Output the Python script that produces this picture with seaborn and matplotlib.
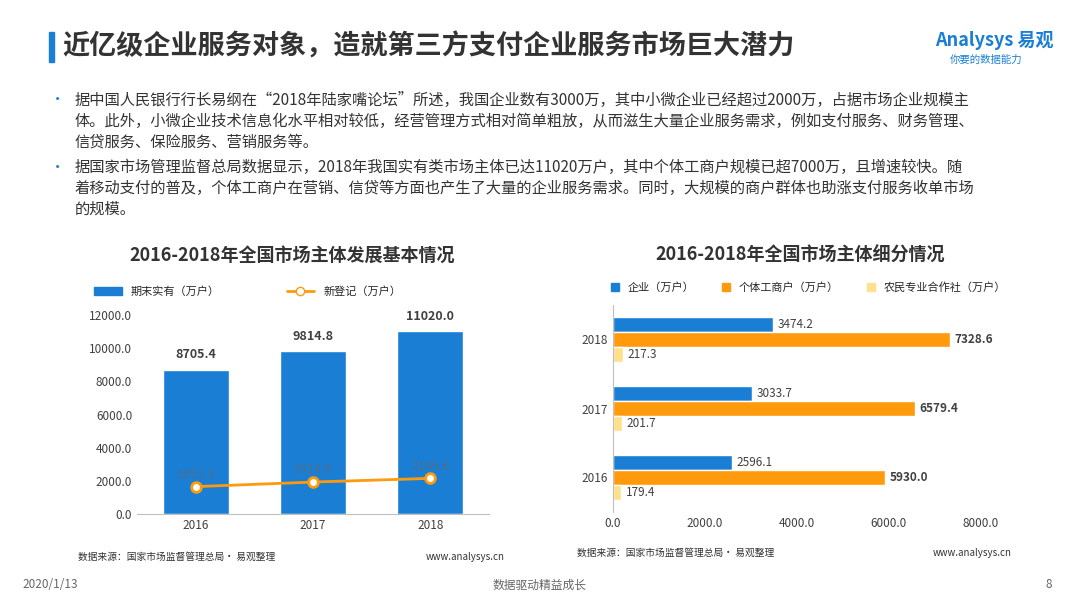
import numpy as np
import pandas as pd
import matplotlib
matplotlib.use("Agg")
import matplotlib.pyplot as plt
import seaborn as sns
from matplotlib.patches import Patch
from matplotlib.lines import Line2D

sns.set_style("white")
plt.rcParams['font.family'] = ['Noto Sans CJK SC', 'DejaVu Sans']

# data
years = ['2016', '2017', '2018']
stock = [8705.4, 9814.8, 11020.0]
new_reg = [1651.3, 1924.9, 2149.6]
enterprise = [2596.1, 3033.7, 3474.2]
individual = [5930.0, 6579.4, 7328.6]
coop = [179.4, 201.7, 217.3]

BLUE = '#1a7fd4'
ORANGE = '#ff9a0d'
PALE = '#ffe08c'
W, H = 1080, 608

fig = plt.figure(figsize=(10.8, 6.08), dpi=100)

def fx(x): return x / W
def fy(y): return 1 - y / H

# header
fig.patches.append(plt.Rectangle((fx(49), fy(62)), fx(5), 30 / H, color='#1a7fd4',
                                 transform=fig.transFigure))
fig.text(fx(62), fy(47), '近亿级企业服务对象，造就第三方支付企业服务市场巨大潜力',
         fontsize=19.5, fontweight='bold', color='#333333', va='center')
fig.text(fx(935), fy(40), 'Analysys 易观', fontsize=13, color='#1a7fd4', fontweight='bold',
         va='center', style='italic')
fig.text(fx(950), fy(60), '你要的数据能力', fontsize=7.5, color='#1a7fd4', va='center')

bul = [
    (80, '据中国人民银行行长易纲在“2018年陆家嘴论坛”所述，我国企业数有3000万，其中小微企业已经超过2000万，占据市场企业规模主'),
    (101, '体。此外，小微企业技术信息化水平相对较低，经营管理方式相对简单粗放，从而滋生大量企业服务需求，例如支付服务、财务管理、'),
    (122, '信贷服务、保险服务、营销服务等。'),
    (147, '据国家市场管理监督总局数据显示，2018年我国实有类市场主体已达11020万户，其中个体工商户规模已超7000万，且增速较快。随'),
    (168, '着移动支付的普及，个体工商户在营销、信贷等方面也产生了大量的企业服务需求。同时，大规模的商户群体也助涨支付服务收单市场'),
    (189, '的规模。'),
]
for y, t in bul:
    fig.text(fx(75), fy(y + 20), t, fontsize=11, color='#333333', va='center')
for y in (80, 147):
    fig.text(fx(50), fy(y + 20), '•', fontsize=11, color='#1a7fd4', va='center')

# left chart
fig.text(fx(292), fy(255), '2016-2018年全国市场主体发展基本情况', fontsize=13,
         fontweight='bold', color='#333333', ha='center', va='center')
ax1 = fig.add_axes([fx(137), fy(514), fx(352), (514 - 315) / H])
df1 = pd.DataFrame({'year': years, 'stock': stock, 'new': new_reg})
sns.barplot(data=df1, x='year', y='stock', color=BLUE, width=0.56, saturation=1, ax=ax1)
ax1.plot(range(3), new_reg, color=ORANGE, lw=2, marker='o', markersize=7,
         markerfacecolor='white', markeredgecolor=ORANGE, markeredgewidth=2)
ax1.set_xlim(-0.5, 2.5)
for i, v in enumerate(stock):
    ax1.text(i, v + 500, f'{v:.1f}', ha='center', va='bottom', fontsize=9,
             fontweight='bold', color='#404040')
for i, v in enumerate(new_reg):
    ax1.text(i, v + 350, f'{v:.1f}', ha='center', va='bottom', fontsize=9, color='#4d6f8f')
ax1.set_ylim(0, 12000)
ax1.set_yticks(np.arange(0, 12001, 2000))
ax1.set_yticklabels([f'{v:.1f}' for v in np.arange(0, 12001, 2000)])
ax1.set_xlabel('')
ax1.set_ylabel('')
ax1.tick_params(labelsize=8.5, colors='#404040', length=0)
for s in ['top', 'right', 'left']:
    ax1.spines[s].set_visible(False)
ax1.spines['bottom'].set_color('#bfbfbf')
ax1.legend(handles=[Patch(color=BLUE, label='期末实有（万户）'),
                    Line2D([], [], color=ORANGE, lw=2, marker='o', markerfacecolor='white',
                           label='新登记（万户）')],
           loc='lower left', bbox_to_anchor=(-0.15, 1.04), ncol=2, frameon=False,
           fontsize=8, handlelength=2.5, columnspacing=6)

# right chart
fig.text(fx(800), fy(255), '2016-2018年全国市场主体细分情况', fontsize=13,
         fontweight='bold', color='#333333', ha='center', va='center')
ax2 = fig.add_axes([fx(613), fy(512), fx(395), (512 - 305) / H])
df2 = pd.DataFrame({'year': years * 3,
                    'val': enterprise + individual + coop,
                    'type': ['企业（万户）'] * 3 + ['个体工商户（万户）'] * 3 + ['农民专业合作社（万户）'] * 3})
order = years[::-1]
sns.barplot(data=df2, y='year', x='val', hue='type', order=order, orient='h',
            palette=[BLUE, ORANGE, PALE], saturation=1, width=0.66, ax=ax2, legend=False)
for cont, bold in zip(ax2.containers, [False, True, False]):
    for r in cont:
        w = r.get_width()
        ax2.text(w + 100, r.get_y() + r.get_height() / 2, f'{w:.1f}', va='center',
                 fontsize=8.5, color='#404040', fontweight='bold' if bold else 'normal')
ax2.set_xlim(0, 8600)
ax2.set_xticks(np.arange(0, 8001, 2000))
ax2.set_xticklabels([f'{v:.1f}' for v in np.arange(0, 8001, 2000)])
ax2.set_xlabel('')
ax2.set_ylabel('')
ax2.tick_params(labelsize=8.5, colors='#404040', length=0)
for s in ['top', 'right', 'bottom']:
    ax2.spines[s].set_visible(False)
ax2.spines['left'].set_color('#bfbfbf')
ax2.legend(handles=[Patch(color=c, label=l) for c, l in
                    zip([BLUE, ORANGE, PALE], ['企业（万户）', '个体工商户（万户）', '农民专业合作社（万户）'])],
           loc='lower left', bbox_to_anchor=(-0.03, 1.01), ncol=3, frameon=False,
           fontsize=8, handlelength=0.7, columnspacing=2.5)

# footers
fig.text(fx(78), fy(557), '数据来源：国家市场监督管理总局· 易观整理', fontsize=7, color='#333333', va='center')
fig.text(fx(505), fy(557), 'www.analysys.cn', fontsize=7, color='#333333', va='center', ha='right')
fig.text(fx(577), fy(553), '数据来源：国家市场监督管理总局· 易观整理', fontsize=7, color='#333333', va='center')
fig.text(fx(1012), fy(553), 'www.analysys.cn', fontsize=7, color='#333333', va='center', ha='right')
fig.text(fx(22), fy(585), '2020/1/13', fontsize=8.5, color='#666666', va='center')
fig.text(fx(540), fy(585), '数据驱动精益成长', fontsize=8.5, color='#666666', va='center', ha='center')
fig.text(fx(1052), fy(585), '8', fontsize=8.5, color='#666666', va='center', ha='right')

fig.savefig('out.png', dpi=100)
